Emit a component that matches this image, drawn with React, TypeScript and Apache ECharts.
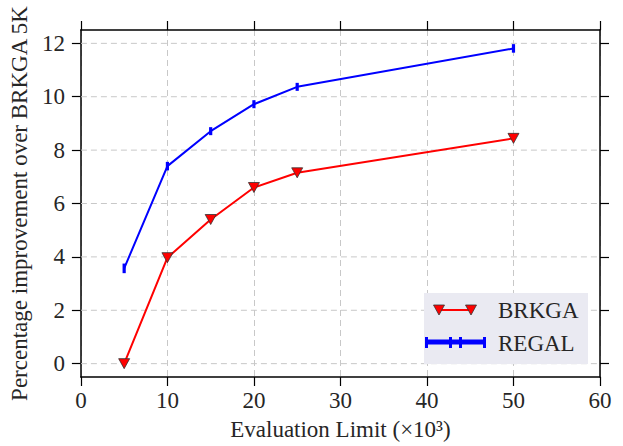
import React, { useEffect, useRef } from "react";
import * as echarts from "echarts";

const evalLimits = [5, 10, 15, 20, 25, 50];
const brkgaValues = [0.0, 3.97, 5.4, 6.6, 7.15, 8.44];
const regalValues = [3.57, 7.4, 8.71, 9.72, 10.37, 11.81];
const regalErr = [0.18, 0.16, 0.15, 0.15, 0.15, 0.16];
const yTicks = [0, 2, 4, 6, 8, 10, 12];
const xTitle = "Evaluation Limit (×10³)";
const yTitle = "Percentage improvement over BRKGA 5K";
const legendNames = ["BRKGA", "REGAL"];

const FONT = "'Liberation Serif', 'DejaVu Serif', serif";
const TXT = "#262626";
const FS = 23;

export default function App() {
  const ref = useRef<HTMLDivElement>(null);
  useEffect(() => {
    if (!ref.current) return;
    const chart = echarts.init(ref.current, undefined, { renderer: "svg" });
    const gridStyle = { color: "#c8c8c8", type: [6, 4], width: 1 };
    const axLine = { show: true, onZero: false, lineStyle: { color: "#000", width: 1.5 } };
    const tick = { show: true, inside: false, length: 9, lineStyle: { color: "#000", width: 1.2 } };
    const errData = evalLimits.map((x, i) => [x, regalValues[i] - regalErr[i], regalValues[i] + regalErr[i]]);
    chart.setOption({
      animation: false,
      textStyle: { fontFamily: FONT },
      grid: { left: 79, right: 23, top: 30, bottom: 69, containLabel: false },
      xAxis: [
        {
          type: "value", min: 0, max: 60, interval: 10, position: "bottom",
          axisLine: axLine, axisTick: tick, splitLine: { show: true, lineStyle: gridStyle },
          axisLabel: { color: TXT, fontSize: FS, fontFamily: FONT, margin: 12 },
          name: xTitle, nameLocation: "middle", nameGap: 41,
          nameTextStyle: { color: TXT, fontSize: FS, fontFamily: FONT },
        },
        {
          type: "value", min: 0, max: 60, interval: 10, position: "top",
          axisLine: axLine, axisTick: tick, splitLine: { show: false },
          axisLabel: { show: false },
        },
      ],
      yAxis: [
        {
          type: "value", min: -0.5, max: 12.5, position: "left",
          axisLine: axLine, axisTick: { ...tick, customValues: yTicks }, splitLine: { show: false },
          axisLabel: { color: TXT, fontSize: FS, fontFamily: FONT, margin: 16, customValues: yTicks },
          name: yTitle, nameLocation: "middle", nameGap: 47,
          nameTextStyle: { color: TXT, fontSize: FS, fontFamily: FONT },
        },
        {
          type: "value", min: -0.5, max: 12.5, position: "right",
          axisLine: axLine, axisTick: { ...tick, customValues: yTicks }, splitLine: { show: false },
          axisLabel: { show: false, customValues: yTicks },
        },
      ],
      series: [
        {
          name: "y-grid", type: "custom", xAxisIndex: 0, yAxisIndex: 0,
          data: yTicks.map((v) => [0, v]), z: 1, silent: true,
          renderItem: (params: any, api: any) => {
            const cs = params.coordSys;
            const p = api.coord([0, api.value(1)]);
            return {
              type: "line",
              shape: { x1: cs.x, y1: p[1], x2: cs.x + cs.width, y2: p[1] },
              style: { stroke: gridStyle.color, lineWidth: 1, lineDash: [6, 4] },
            };
          },
        },
        {
          name: legendNames[1], type: "line", xAxisIndex: 0, yAxisIndex: 0,
          data: evalLimits.map((x, i) => [x, regalValues[i]]),
          showSymbol: false, symbol: "none",
          lineStyle: { color: "#0000ff", width: 2 }, itemStyle: { color: "#0000ff" }, z: 3,
        },
        {
          name: "regal-err", type: "custom", xAxisIndex: 0, yAxisIndex: 0,
          data: errData, z: 4,
          renderItem: (params: any, api: any) => {
            const lo = api.coord([api.value(0), api.value(1)]);
            const hi = api.coord([api.value(0), api.value(2)]);
            return {
              type: "rect",
              shape: { x: lo[0] - 1.6, y: hi[1], width: 3.2, height: lo[1] - hi[1] },
              style: { fill: "#0000ff" },
            };
          },
        },
        {
          name: legendNames[0], type: "line", xAxisIndex: 0, yAxisIndex: 0,
          data: evalLimits.map((x, i) => [x, brkgaValues[i]]),
          symbol: "triangle", symbolRotate: 180, symbolSize: [11, 10],
          lineStyle: { color: "#ff0000", width: 2 },
          itemStyle: { color: "#ff0000", borderColor: "#333", borderWidth: 0.8 }, z: 5,
        },
      ],
      graphic: [
        { type: "rect", shape: { x: 424, y: 293, width: 164, height: 71 }, style: { fill: "#eaeaf2" }, z: 10 },
        { type: "line", shape: { x1: 439, y1: 310, x2: 471, y2: 310 }, style: { stroke: "#ff0000", lineWidth: 2 }, z: 11 },
        { type: "polygon", shape: { points: [[433.5, 305], [444.5, 305], [439, 315]] }, style: { fill: "#ff0000", stroke: "#333", lineWidth: 0.8 }, z: 12 },
        { type: "polygon", shape: { points: [[465.5, 305], [476.5, 305], [471, 315]] }, style: { fill: "#ff0000", stroke: "#333", lineWidth: 0.8 }, z: 12 },
        { type: "text", x: 498, y: 310, style: { text: legendNames[0], fontSize: FS, fontFamily: FONT, fill: TXT, verticalAlign: "middle" }, z: 12 },
        { type: "line", shape: { x1: 427, y1: 342, x2: 484, y2: 342 }, style: { stroke: "#0000ff", lineWidth: 5 }, z: 11 },
        { type: "rect", shape: { x: 425, y: 337, width: 3, height: 11 }, style: { fill: "#0000ff" }, z: 12 },
        { type: "rect", shape: { x: 449, y: 337, width: 3, height: 11 }, style: { fill: "#0000ff" }, z: 12 },
        { type: "rect", shape: { x: 459, y: 337, width: 3, height: 11 }, style: { fill: "#0000ff" }, z: 12 },
        { type: "rect", shape: { x: 483, y: 337, width: 3, height: 11 }, style: { fill: "#0000ff" }, z: 12 },
        { type: "text", x: 498, y: 343, style: { text: legendNames[1], fontSize: FS, fontFamily: FONT, fill: TXT, verticalAlign: "middle" }, z: 12 },
      ],
    });
    return () => chart.dispose();
  }, []);
  return <div ref={ref} style={{ width: 623, height: 446, position: "absolute", left: 0, top: 0 }} />;
}
